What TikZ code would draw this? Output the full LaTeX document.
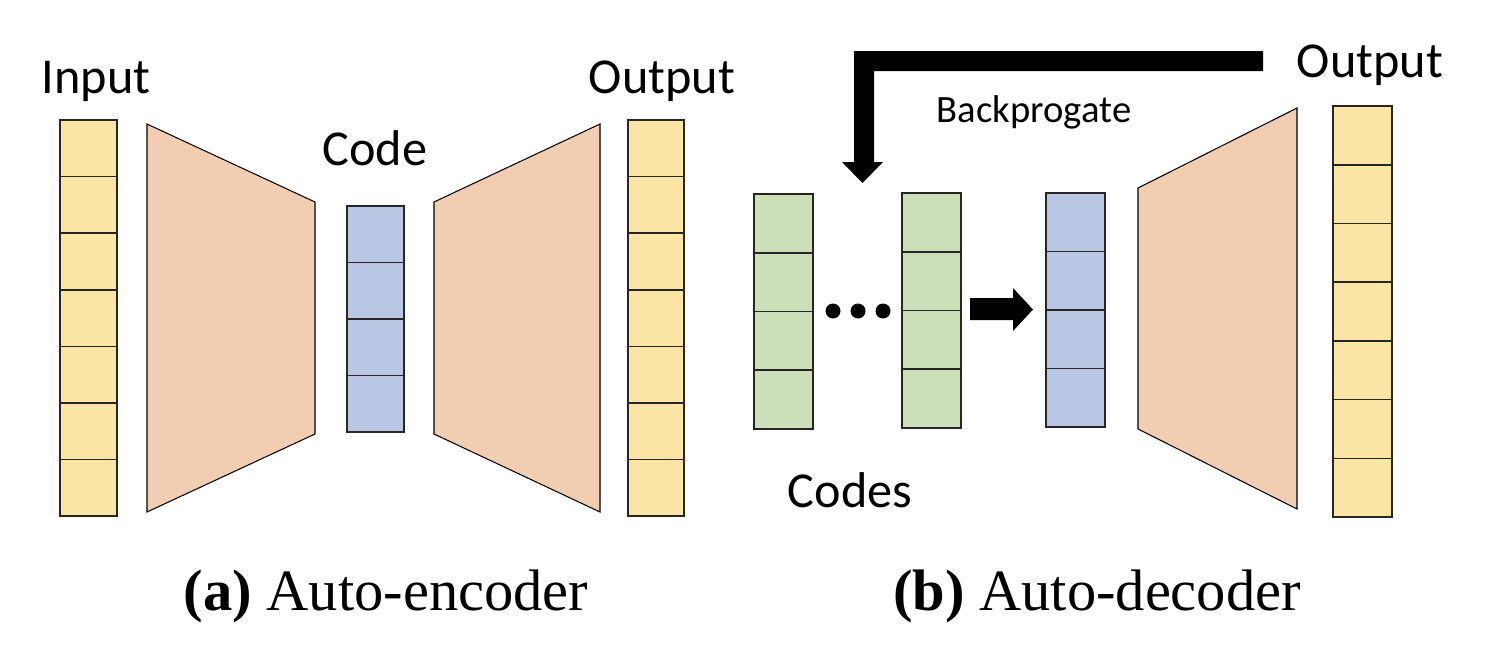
\documentclass[tikz,border=0pt]{standalone}
\usepackage{fontspec}
\setmainfont{Liberation Serif}
\newfontfamily\calfont{Carlito}
\definecolor{cyel}{HTML}{FBE5A4}
\definecolor{cpeach}{HTML}{F1CDB1}
\definecolor{cblue}{HTML}{B9C7E4}
\definecolor{cgreen}{HTML}{CCDFB9}
\tikzset{
  cellbox/.style={draw=black!85, line width=0.9pt, inner sep=0pt, outer sep=0pt},
  trap/.style={draw=black, line width=0.6pt, fill=cpeach},
  lbl/.style={anchor=base, inner sep=0pt, font=\calfont\fontsize{28.6}{34}\selectfont},
  smalllbl/.style={anchor=base, inner sep=0pt, font=\calfont\fontsize{22}{26}\selectfont},
  captionlbl/.style={anchor=base, inner sep=0pt, font=\fontsize{33.3}{40}\selectfont},
  blockarrow/.style={fill=black},
  dotnode/.style={circle, fill=black, inner sep=0pt, minimum size=0.3cm}
}
\newcommand{\colstack}[7]{%
  \pgfmathsetmacro{\cw}{(#4-#2)*0.02}%
  \pgfmathsetmacro{\ch}{(#5-#3)/#6}%
  \pgfmathsetmacro{\chcm}{\ch*0.02}%
  \foreach \i in {1,...,#6}{%
    \node[cellbox, fill=#7, minimum width=\cw cm, minimum height=\chcm cm] (#1\i) at ({(#2+#4)/2}, {#3+(\i-0.5)*\ch}) {};
  }%
}
\begin{document}
\begin{tikzpicture}[x=0.02cm, y=-0.02cm]
\useasboundingbox (0,0) rectangle (1503,659);
% ---- (a) auto-encoder ----
\colstack{in}{60}{120}{117}{516}{7}{cyel}
\draw[trap] (147,124) -- (315,202) -- (315,434) -- (147,512) -- cycle;
\colstack{code}{347}{206}{404}{432}{4}{cblue}
\draw[trap] (434,202) -- (600,124) -- (600,512) -- (434,434) -- cycle;
\colstack{out}{628}{120}{684}{516}{7}{cyel}
\node[lbl] (tin) at (96,93) {Input};
\node[lbl] (tcode) at (375,165) {Code};
\node[lbl] (tout) at (662,93) {Output};
% ---- (b) auto-decoder ----
\colstack{ga}{754}{194}{813}{429}{4}{cgreen}
\colstack{gb}{902}{193}{961}{428}{4}{cgreen}
\colstack{bl}{1046}{193}{1105}{427}{4}{cblue}
\draw[trap] (1138,188) -- (1297,108) -- (1297,509) -- (1138,429) -- cycle;
\colstack{outb}{1333}{106}{1392}{517}{7}{cyel}
\node[dotnode] (d1) at (833,311) {};
\node[dotnode] (d2) at (858,311) {};
\node[dotnode] (d3) at (883,311) {};
\fill[blockarrow] (970,298) -- (1013,298) -- (1013,288) -- (1033,309.5) -- (1013,331) -- (1013,320) -- (970,320) -- cycle;
\fill[blockarrow] (1263,51) -- (854,51) -- (854,162) -- (842,162) -- (862.5,183) -- (883,162) -- (874,162) -- (874,71) -- (1263,71) -- cycle;
\node[smalllbl] (tback) at (1034,122) {Backprogate};
\node[lbl] (tcodes) at (850,507) {Codes};
\node[lbl] (toutb) at (1370,77) {Output};
% ---- captions ----
\node[captionlbl] (capa) at (386,610) {\textbf{(a)} Auto-encoder};
\node[captionlbl] (capb) at (1097,610) {\textbf{(b)} Auto-decoder};
\end{tikzpicture}
\end{document}
